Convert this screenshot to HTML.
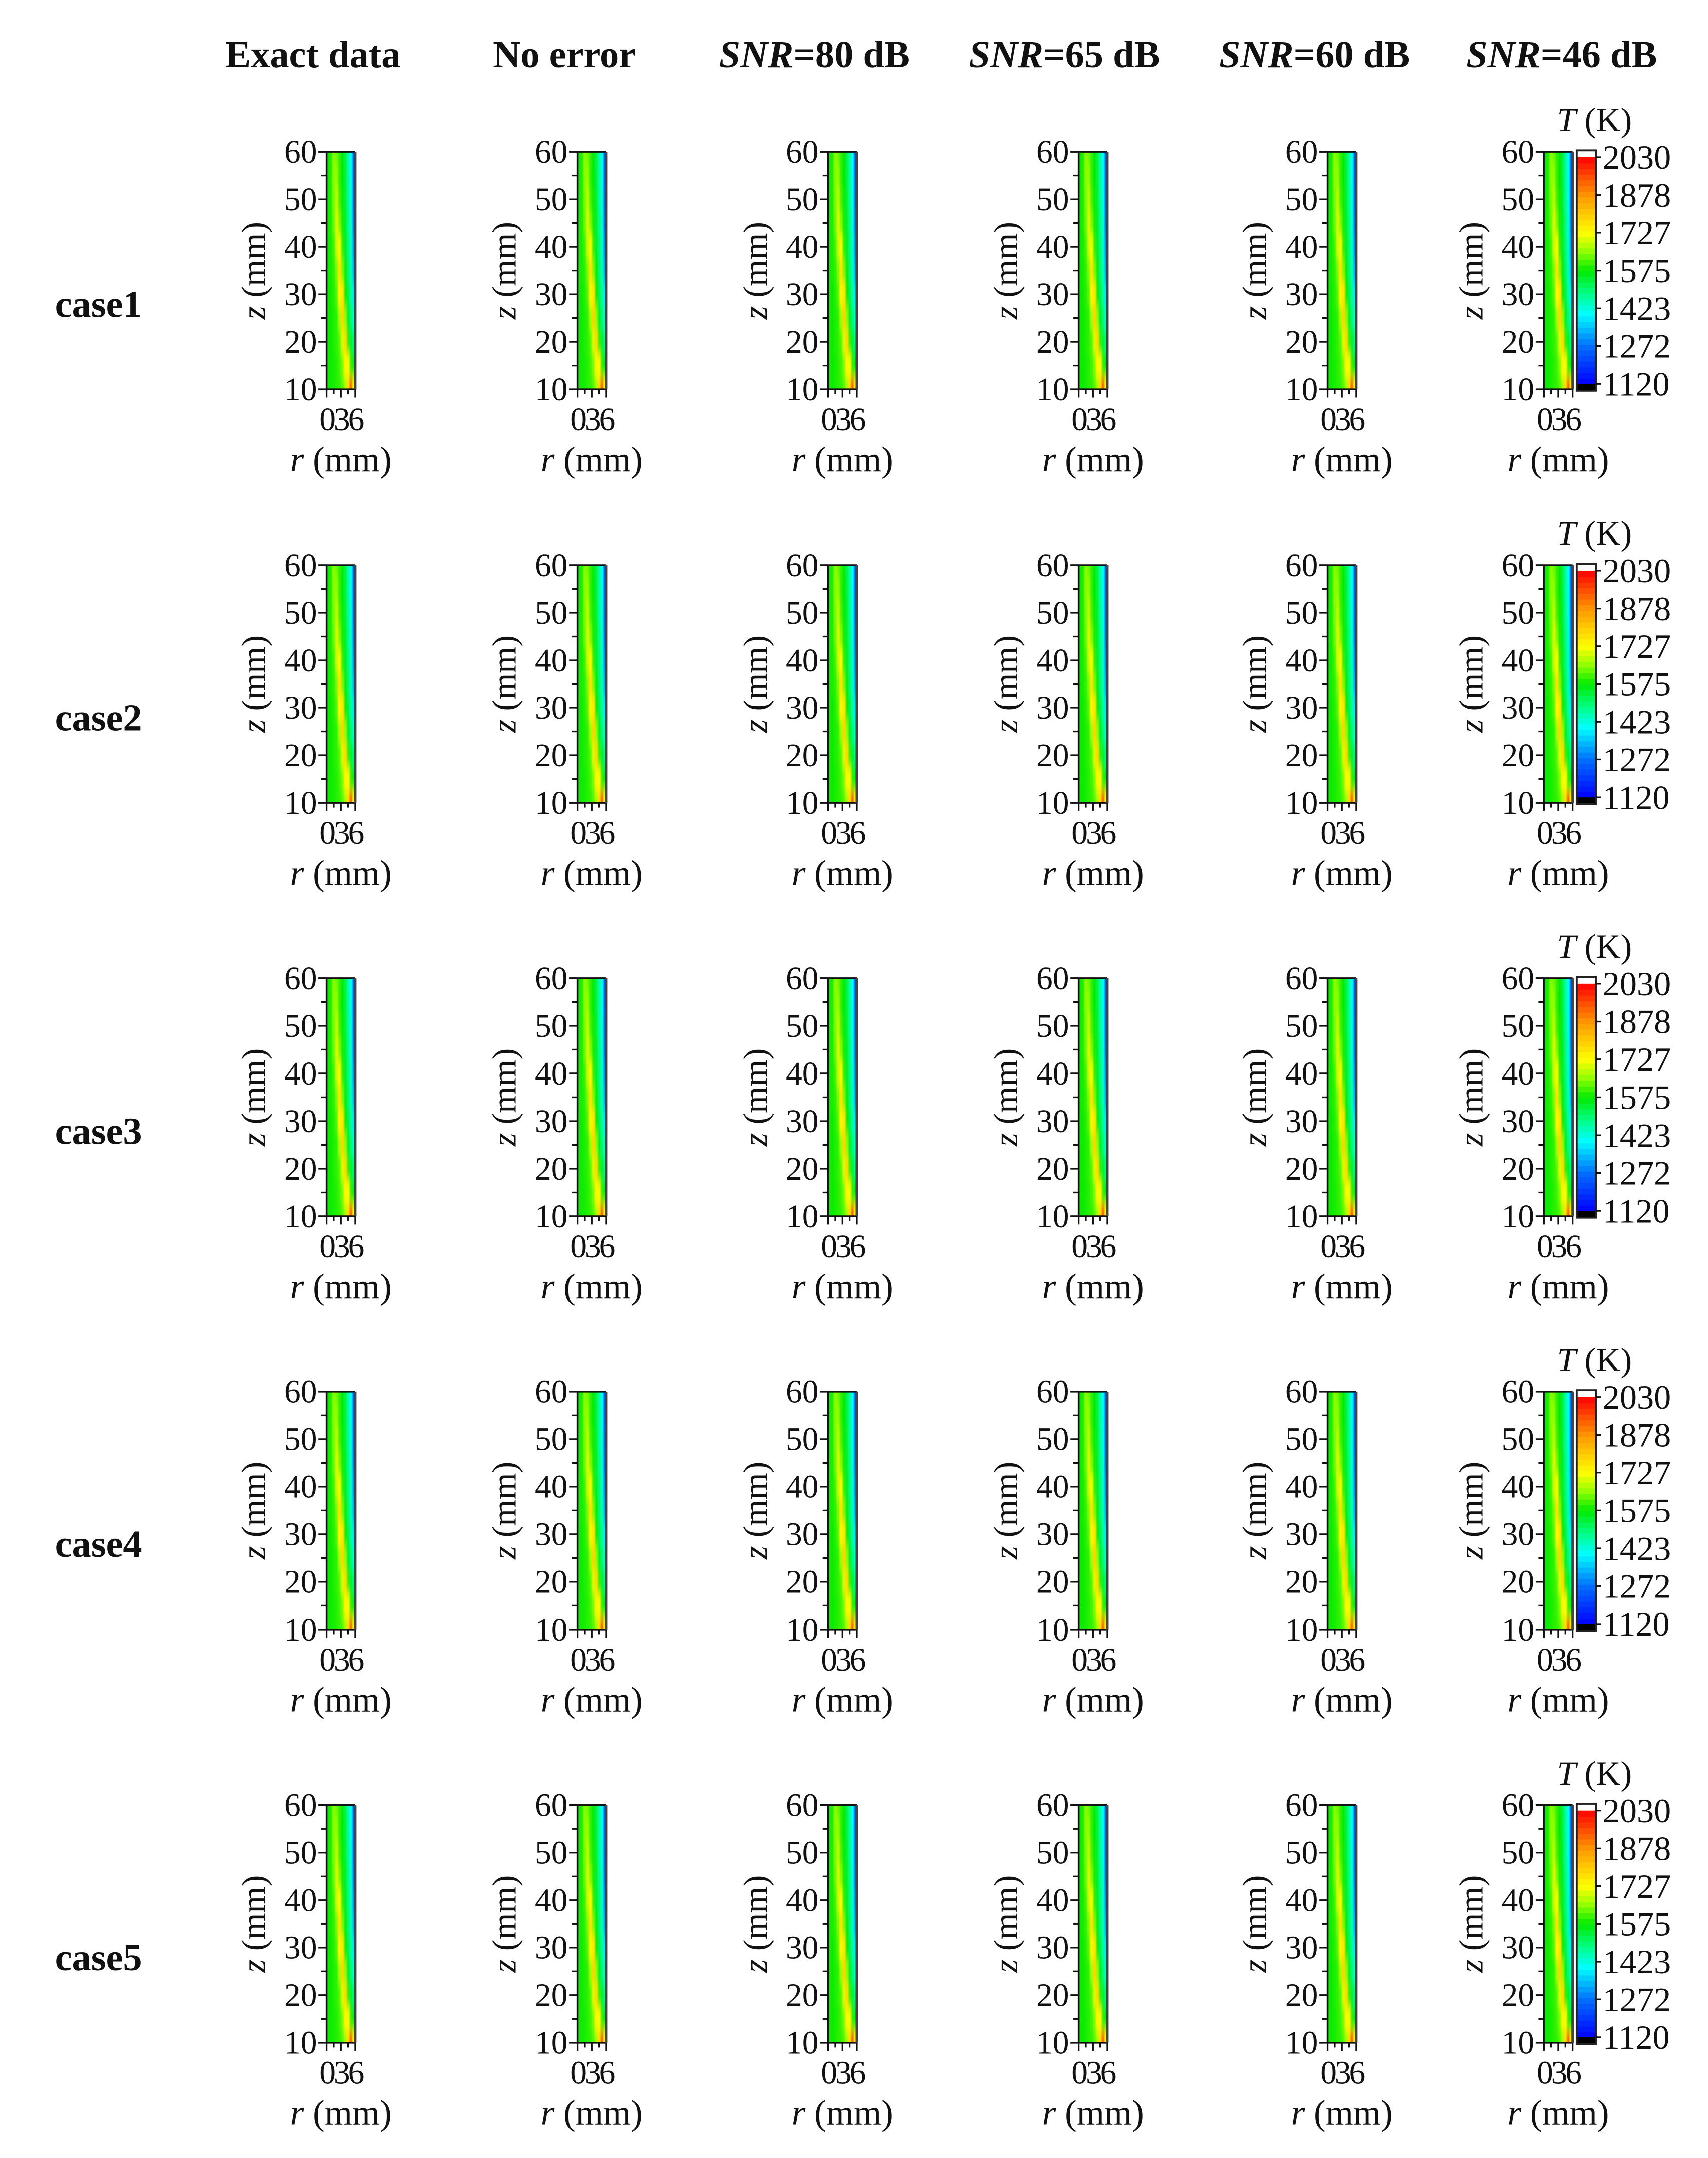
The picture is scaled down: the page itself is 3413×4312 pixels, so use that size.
<!DOCTYPE html>
<html><head><meta charset="utf-8">
<style>
html,body{margin:0;padding:0;background:#fff;}
svg{display:block;}
text{font-family:"Liberation Serif",serif;fill:#111;}
</style></head>
<body>
<svg id="fig" xmlns="http://www.w3.org/2000/svg" width="3413" height="4312" viewBox="0 0 1250 1579.3">
<defs>
<filter id="sm" x="-50%" y="-10%" width="200%" height="120%"><feGaussianBlur stdDeviation="0.5 4"/></filter>
</defs>
<g font-size="28" font-weight="bold" text-anchor="middle">
<text x="229" y="49">Exact data</text>
<text x="413" y="49">No error</text>
<text x="596" y="49"><tspan font-style="italic">SNR</tspan>=80 dB</text>
<text x="779" y="49"><tspan font-style="italic">SNR</tspan>=65 dB</text>
<text x="962" y="49"><tspan font-style="italic">SNR</tspan>=60 dB</text>
<text x="1143" y="49"><tspan font-style="italic">SNR</tspan>=46 dB</text>
</g>
<g id="panels"></g>
</svg>
<script>
// Temperature field (K): rows z = 60 ... 10 mm, columns r = 0 ... 6 mm
const zRows = [60,55,50,45,40,35,30,25,20,15,10];
const rCols = [0,0.6,1.2,1.8,2.4,3.0,3.6,4.2,4.8,5.4];
const tempGrid = [
 [1580,1590,1650,1630,1600,1570,1530,1470,1400,1230],
 [1580,1590,1650,1650,1600,1575,1535,1475,1410,1240],
 [1580,1590,1640,1680,1610,1580,1540,1480,1420,1250],
 [1580,1590,1630,1700,1640,1585,1545,1490,1430,1270],
 [1580,1585,1610,1690,1720,1600,1550,1500,1440,1300],
 [1580,1585,1600,1640,1770,1640,1560,1510,1450,1330],
 [1580,1580,1595,1620,1740,1760,1580,1530,1470,1380],
 [1580,1580,1590,1600,1660,1790,1650,1550,1500,1440],
 [1580,1580,1590,1600,1620,1700,1780,1600,1540,1500],
 [1580,1580,1585,1595,1610,1640,1740,1720,1600,1560],
 [1580,1580,1585,1595,1600,1620,1660,1780,1950,1720]
];
const caseLabels = ["case1","case2","case3","case4","case5"];
const zTicks = [10,20,30,40,50,60];
const zMinor = [15,25,35,45,55];
const rTicks = [0,3,6];
const rMinor = [1.5,4.5];
const cbLabels = [2030,1878,1727,1575,1423,1272,1120];

const NS="http://www.w3.org/2000/svg";
const root=document.getElementById('panels');
function mk(tag,attrs,parent,txt){const e=document.createElementNS(NS,tag);for(const k in attrs)e.setAttribute(k,attrs[k]);if(txt!==undefined)e.textContent=txt;(parent||root).appendChild(e);return e;}

const stops=[[1120,[0,0,255]],[1272,[0,110,255]],[1400,[0,255,255]],[1480,[0,255,140]],[1575,[0,235,0]],[1650,[140,255,0]],[1727,[255,255,0]],[1878,[255,150,0]],[2030,[255,0,0]]];
function cmap(t){
  if(t<=stops[0][0])return 'rgb(0,0,255)';
  for(let i=1;i<stops.length;i++){if(t<=stops[i][0]){const a=stops[i-1],b=stops[i];const f=(t-a[0])/(b[0]-a[0]);const c=a[1].map((v,k)=>Math.round(v+(b[1][k]-v)*f));return `rgb(${c[0]},${c[1]},${c[2]})`;}}
  return 'rgb(255,0,0)';
}

const colLefts=[239,422.5,606,789.5,971.5,1130];
const PW=21, PH=174, rowTop0=111, rowPitch=302.5;

function panel(ci,ri){
  const x0=colLefts[ci], y0=rowTop0+ri*rowPitch;
  const zs=v=>y0+PH*(60-v)/50;
  const rs=v=>x0+PW*v/6;
  const g=mk('g',{});
  
  
  const cid='c'+ci+'_'+ri;
  const cp=mk('clipPath',{id:cid},g);
  mk('rect',{x:x0,y:y0,width:PW,height:PH},cp);
  const cg=mk('g',{'clip-path':`url(#${cid})`},g);
  const hg=mk('g',{filter:'url(#sm)'},cg);
  
  
  const dz=5, dr=0.6;
  tempGrid.forEach((row,i)=>{row.forEach((t,j)=>{
    let xa=rs(rCols[j]), xb=rs(rCols[j]+dr), ya=zs(zRows[i]+dz/2), yb=zs(zRows[i]-dz/2);
    if(j===0)xa-=8; if(j===row.length-1)xb+=3; if(i===0)ya-=15; if(i===tempGrid.length-1)yb+=15;
    const c=mk('rect',{x:xa,y:ya,width:xb-xa+0.3,height:yb-ya+0.3,fill:cmap(t)},hg);
    
    
  });});
  mk('line',{x1:x0-6,y1:y0,x2:x0+PW,y2:y0,stroke:'#111','stroke-width':1.3},g);
  mk('line',{x1:x0,y1:y0,x2:x0,y2:y0+PH,stroke:'#111','stroke-width':1.3},g);
  mk('line',{x1:x0-6,y1:y0+PH,x2:x0+PW+0.6,y2:y0+PH,stroke:'#111','stroke-width':1.3},g);
  mk('line',{x1:x0+PW,y1:y0,x2:x0+PW,y2:y0+PH,stroke:'#444','stroke-width':1.8},g);
  zTicks.forEach(v=>{mk('line',{x1:x0-6,y1:zs(v),x2:x0,y2:zs(v),stroke:'#111','stroke-width':1.2},g);
    const t=mk('text',{x:x0-7,y:zs(v)+8,'font-size':24,'text-anchor':'end'},g,String(v));
    
    });
  zMinor.forEach(v=>mk('line',{x1:x0-4,y1:zs(v),x2:x0,y2:zs(v),stroke:'#111','stroke-width':1.2},g));
  rTicks.forEach(v=>mk('line',{x1:rs(v),y1:y0+PH,x2:rs(v),y2:y0+PH+6,stroke:'#111','stroke-width':1.2},g));
  rMinor.forEach(v=>mk('line',{x1:rs(v),y1:y0+PH,x2:rs(v),y2:y0+PH+3.5,stroke:'#111','stroke-width':1.2},g));
  const rl=mk('text',{x:x0+PW/2,y:y0+PH+30,'font-size':24,'text-anchor':'middle','letter-spacing':'-1.5'},g,rTicks.join(''));
  
  
  const rt=mk('text',{x:x0+PW/2,y:y0+PH+60,'font-size':26,'text-anchor':'middle'},g);
  
  
  mk('tspan',{'font-style':'italic'},rt,'r');
  mk('tspan',{},rt,' (mm)');
  const zt=mk('text',{x:0,y:0,'font-size':25,'text-anchor':'middle',transform:`translate(${x0-45},${y0+PH/2}) rotate(-90)`},g);
  
  
  mk('tspan',{'font-style':'italic'},zt,'z');
  mk('tspan',{},zt,' (mm)');
}

function colorbar(ri){
  const x0=1154, w=14, y0=rowTop0-1+ri*rowPitch, h=176;
  const g=mk('g',{});
  
  
  const yTop=y0+5, yBot=y0+h-5;
  const vs=v=>yTop+(yBot-yTop)*(2030-v)/(2030-1120);
  mk('rect',{x:x0,y:y0,width:w,height:h,fill:'#fff'},g);
  const n=40;
  for(let k=0;k<n;k++){
    const v=1120+(2030-1120)*(k+0.5)/n;
    const ya=vs(1120+(2030-1120)*(k+1)/n), yb=vs(1120+(2030-1120)*k/n);
    mk('rect',{x:x0,y:ya,width:w,height:yb-ya+0.4,fill:cmap(v)},g);
  }
  mk('rect',{x:x0,y:yBot,width:w,height:y0+h-yBot,fill:'#000'},g);
  mk('rect',{x:x0,y:y0,width:w,height:h,fill:'none',stroke:'#222','stroke-width':1.4},g);
  cbLabels.forEach(v=>{
    mk('line',{x1:x0+w,y1:vs(v),x2:x0+w+4,y2:vs(v),stroke:'#111','stroke-width':1.2},g);
    const t=mk('text',{x:x0+w+5,y:vs(v)+8.5,'font-size':25},g,String(v));
    
    
  });
  const tt=mk('text',{x:1167,y:y0-14,'font-size':25,'text-anchor':'middle'},g);
  
  
  mk('tspan',{'font-style':'italic'},tt,'T');
  mk('tspan',{},tt,' (K)');
}

caseLabels.forEach((c,ri)=>{
  const t=mk('text',{x:72,y:rowTop0+ri*rowPitch+121,'font-size':28,'font-weight':'bold','text-anchor':'middle'},root,c);
  
  
  for(let ci=0;ci<6;ci++)panel(ci,ri);
  colorbar(ri);
});
</script>
</body></html>
